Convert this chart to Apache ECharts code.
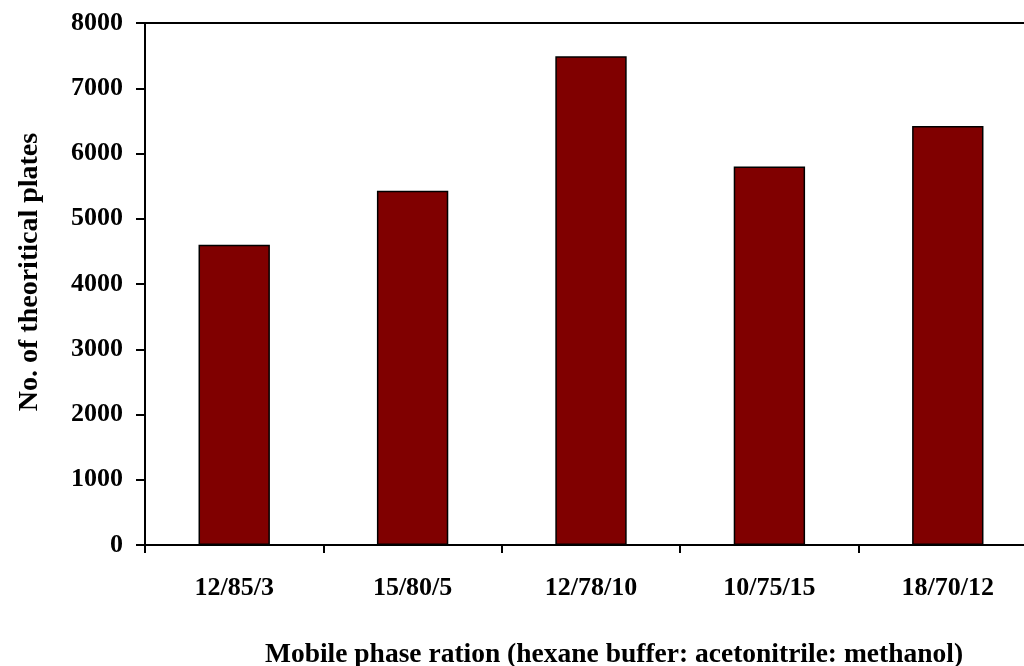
<!DOCTYPE html>
<html>
<head>
<meta charset="utf-8">
<script src="https://cdn.jsdelivr.net/npm/echarts@6/dist/echarts.min.js"></script>
<style>
  html, body { margin: 0; padding: 0; background: #fff; overflow: hidden; }
  /* the plot runs a little past the right edge of the window */
  #chart { width: 1040px; height: 666px; }
</style>
</head>
<body>
<div id="chart"></div>
<script>
// Mobile phase ratios (hexane buffer / acetonitrile / methanol)
const categories = ['12/85/3', '15/80/5', '12/78/10', '10/75/15', '18/70/12'];
// Number of theoretical plates for each ratio
const plates = [4600, 5430, 7490, 5800, 6420];
const yTicks = { min: 0, max: 8000, interval: 1000 };

const FONT = "'Liberation Serif', 'Times New Roman', serif";

const chart = echarts.init(document.getElementById('chart'), null, { renderer: 'canvas' });
chart.setOption({
  backgroundColor: '#ffffff',
  animation: false,
  grid: {
    left: 145, top: 23, right: 3, bottom: 121,
    show: true, borderColor: '#000', borderWidth: 2, backgroundColor: 'transparent'
  },
  xAxis: {
    type: 'category',
    data: categories,
    axisLine: { lineStyle: { color: '#000', width: 2 } },
    axisTick: { show: true, length: 8, lineStyle: { color: '#000', width: 2 } },
    axisLabel: { color: '#000', fontFamily: FONT, fontWeight: 'bold', fontSize: 26, margin: 30 },
    splitLine: { show: false }
  },
  yAxis: {
    type: 'value',
    min: yTicks.min, max: yTicks.max, interval: yTicks.interval,
    axisLine: { show: true, lineStyle: { color: '#000', width: 2 } },
    axisTick: { show: true, length: 9, lineStyle: { color: '#000', width: 2 } },
    axisLabel: {
      color: '#000', fontFamily: FONT, fontWeight: 'bold', fontSize: 26, margin: 22,
      formatter: v => String(v)
    },
    splitLine: { show: false }
  },
  series: [{
    type: 'bar',
    data: plates,
    barWidth: '40%',
    itemStyle: { color: '#800000', borderColor: '#000', borderWidth: 1.5 }
  }],
  graphic: [
    {
      type: 'text', x: 614, y: 655,
      style: {
        text: 'Mobile phase ration (hexane buffer: acetonitrile: methanol)',
        font: 'bold 27.5px ' + FONT, fill: '#000',
        textAlign: 'center', textVerticalAlign: 'middle'
      }
    },
    {
      type: 'text', x: 30, y: 272, rotation: Math.PI / 2,
      style: {
        text: 'No. of theoritical plates',
        font: 'bold 28px ' + FONT, fill: '#000',
        textAlign: 'center', textVerticalAlign: 'middle'
      }
    }
  ]
});
</script>
</body>
</html>
